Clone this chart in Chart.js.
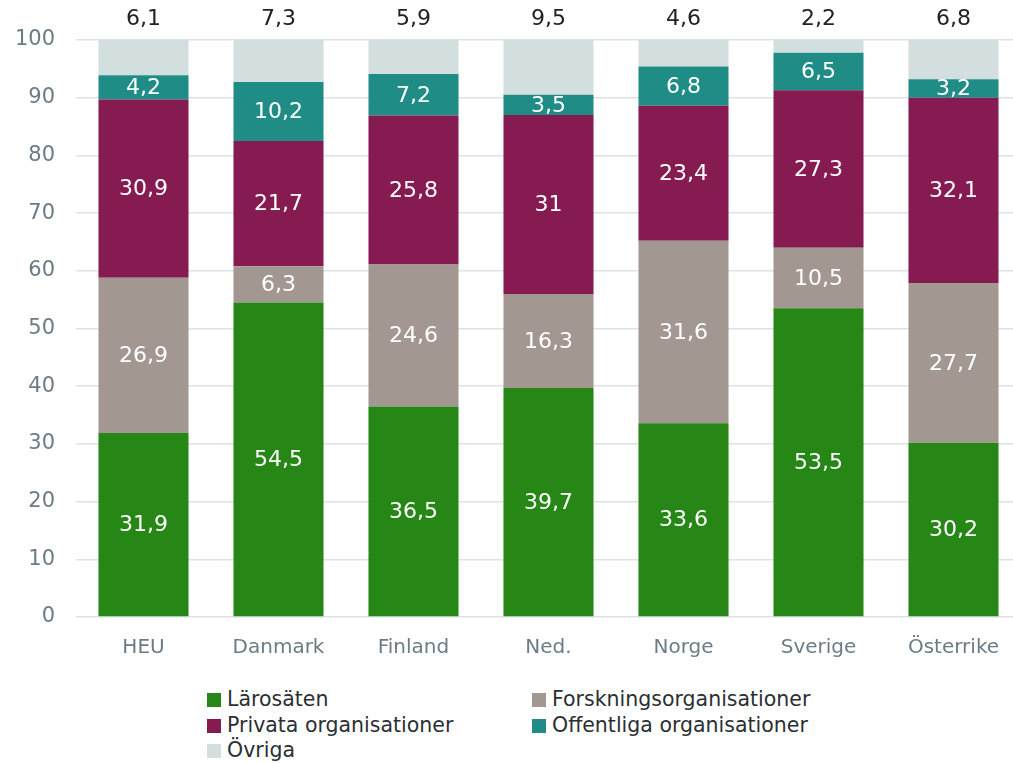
<!DOCTYPE html>
<html lang="sv">
<head>
    <meta charset="UTF-8">
    <title>Fördelning per organisationstyp</title>
    <style>
        html, body {
            margin: 0;
            padding: 0;
            background: #fff;
            overflow: hidden;
            font-family: "DejaVu Sans", sans-serif;
        }
        .wrap {
            position: relative;
            width: 1021px;
            height: 763px;
        }
        #chart {
            position: absolute;
            left: 0;
            top: 0;
        }
        .legend {
            position: absolute;
            top: 687px;
            left: 207px;
            width: 700px;
            font-size: 20.5px;
            color: #2b2f33;
        }
        .legend .item {
            position: absolute;
            white-space: nowrap;
            line-height: 25px;
        }
        .legend .box {
            display: inline-block;
            width: 14px;
            height: 14px;
            margin-right: 6px;
            vertical-align: -1px;
        }
    </style>
</head>
<body>
<div class="wrap">
    <canvas id="chart" width="1021" height="671"></canvas>
    <div class="legend" id="legend"></div>
</div>
<script src="https://cdn.jsdelivr.net/npm/chart.js"></script>
<script>
    const categories = ['HEU', 'Danmark', 'Finland', 'Ned.', 'Norge', 'Sverige', 'Österrike'];

    const larosaten = [31.9, 54.5, 36.5, 39.7, 33.6, 53.5, 30.2];
    const forskning = [26.9, 6.3, 24.6, 16.3, 31.6, 10.5, 27.7];
    const privata = [30.9, 21.7, 25.8, 31, 23.4, 27.3, 32.1];
    const offentliga = [4.2, 10.2, 7.2, 3.5, 6.8, 6.5, 3.2];
    const ovriga = [6.1, 7.3, 5.9, 9.5, 4.6, 2.2, 6.8];

    const yTicks = [0, 10, 20, 30, 40, 50, 60, 70, 80, 90, 100];

    const series = [
        { label: 'Lärosäten', data: larosaten, color: '#268716' },
        { label: 'Forskningsorganisationer', data: forskning, color: '#a39791' },
        { label: 'Privata organisationer', data: privata, color: '#861b51' },
        { label: 'Offentliga organisationer', data: offentliga, color: '#1f8c86' },
        { label: 'Övriga', data: ovriga, color: '#d3dfdf' }
    ];

    const fmt = v => String(v).replace('.', ',');

    // values inside the segments, last series above the bar
    const valueLabels = {
        id: 'valueLabels',
        afterDatasetsDraw(chart) {
            const ctx = chart.ctx;
            ctx.save();
            ctx.font = '22px "DejaVu Sans", sans-serif';
            ctx.textAlign = 'center';
            ctx.textBaseline = 'middle';
            const last = chart.data.datasets.length - 1;
            chart.data.datasets.forEach((ds, i) => {
                const meta = chart.getDatasetMeta(i);
                meta.data.forEach((bar, j) => {
                    const txt = fmt(ds.data[j]);
                    if (i === last) {
                        ctx.fillStyle = '#222';
                        ctx.fillText(txt, bar.x, chart.chartArea.top - 21);
                    } else {
                        ctx.fillStyle = '#fff';
                        ctx.fillText(txt, bar.x, (bar.y + bar.base) / 2 + 1);
                    }
                });
            });
            ctx.restore();
        }
    };

    new Chart(document.getElementById('chart'), {
        type: 'bar',
        data: {
            labels: categories,
            datasets: series.map(s => ({
                label: s.label,
                data: s.data,
                backgroundColor: s.color,
                borderWidth: 0,
                categoryPercentage: 1,
                barPercentage: 0.667
            }))
        },
        options: {
            responsive: false,
            animation: false,
            layout: { padding: { top: 40, right: 0, bottom: 0, left: 0 } },
            plugins: {
                legend: { display: false },
                tooltip: { enabled: false }
            },
            scales: {
                x: {
                    stacked: true,
                    grid: { display: false },
                    border: { display: false },
                    ticks: {
                        color: '#6b7c86',
                        padding: 11,
                        font: { family: '"DejaVu Sans", sans-serif', size: 20 }
                    }
                },
                y: {
                    stacked: true,
                    min: 0,
                    max: 100,
                    afterFit(scale) { scale.width = 76; },
                    afterBuildTicks(scale) { scale.ticks = yTicks.map(v => ({ value: v })); },
                    grid: { color: '#dce3e5', lineWidth: 1.5, drawTicks: false },
                    border: { display: false },
                    ticks: {
                        color: '#6b7c86',
                        padding: 21,
                        font: { family: '"DejaVu Sans", sans-serif', size: 21 }
                    }
                }
            }
        },
        plugins: [valueLabels]
    });

    // legend in two columns, like the original
    const legend = document.getElementById('legend');
    series.forEach((s, i) => {
        const el = document.createElement('div');
        el.className = 'item';
        el.style.left = (i % 2 === 0 ? 0 : 325) + 'px';
        el.style.top = (Math.floor(i / 2) * 25.5) + 'px';
        el.innerHTML = '<span class="box" style="background:' + s.color + '"></span>' + s.label;
        legend.appendChild(el);
    });
</script>
</body>
</html>
